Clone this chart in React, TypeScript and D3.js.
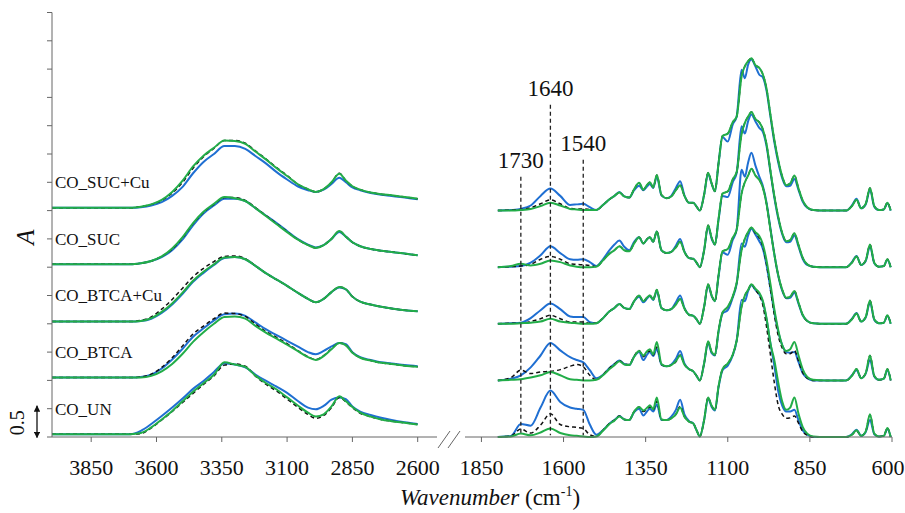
import React from 'react'
import * as d3 from 'd3'

// ---- data ----
const samples = ['CO_UN', 'CO_BTCA', 'CO_BTCA+Cu', 'CO_SUC', 'CO_SUC+Cu']
const offsets = [0, 1, 2, 3, 4]
const labelLevels = [0.5, 1.5, 2.5, 3.5, 4.5]

const leftTicks = [3850, 3600, 3350, 3100, 2850, 2600]
const rightTicks = [1850, 1600, 1350, 1100, 850, 600]
const markerWn = [1730, 1640, 1540]

const leftWn = [4000, 3700, 3660, 3620, 3580, 3540, 3500, 3460, 3420, 3380, 3340, 3300, 3260, 3220, 3180, 3140, 3100, 3060, 3020, 2990, 2960, 2930, 2900, 2875, 2850, 2820, 2780, 2740, 2700, 2650, 2600]

const amWn = [1800, 1760, 1730, 1700, 1670, 1640, 1610, 1580, 1560, 1540, 1520, 1500]
const fpWn = [1480, 1460, 1445, 1430, 1415, 1400, 1385, 1370, 1357, 1345, 1337, 1327, 1316, 1302, 1286, 1272, 1258, 1245, 1232, 1218, 1205, 1195, 1185, 1172, 1160, 1149, 1139, 1128, 1116, 1100, 1085, 1073, 1058, 1048, 1038, 1028, 1016, 1004, 994, 982, 970, 958, 946, 934, 922, 910, 897, 885, 872, 858, 840, 800, 740, 722, 708, 694, 680, 667, 654, 640, 625, 614, 604]

// CO_UN
const unLBlue = [0.05, 0.05, 0.11, 0.23, 0.37, 0.52, 0.68, 0.85, 0.99, 1.15, 1.30, 1.28, 1.23, 1.10, 0.99, 0.89, 0.78, 0.64, 0.52, 0.49, 0.55, 0.66, 0.70, 0.67, 0.54, 0.45, 0.39, 0.34, 0.30, 0.26, 0.23]
const unLGreen = [0.05, 0.05, 0.06, 0.16, 0.30, 0.45, 0.61, 0.77, 0.93, 1.08, 1.27, 1.29, 1.25, 1.07, 0.93, 0.81, 0.67, 0.53, 0.40, 0.33, 0.38, 0.52, 0.70, 0.62, 0.52, 0.42, 0.36, 0.31, 0.28, 0.25, 0.22]
const unLBlack = [0.05, 0.05, 0.07, 0.17, 0.31, 0.46, 0.63, 0.80, 0.95, 1.10, 1.32, 1.28, 1.24, 1.08, 0.95, 0.84, 0.70, 0.56, 0.43, 0.36, 0.40, 0.54, 0.72, 0.63, 0.53, 0.43, 0.36, 0.31, 0.28, 0.25, 0.22]
const unAmBlue = [0, 0.02, 0.23, 0.20, 0.52, 0.82, 0.62, 0.52, 0.50, 0.48, 0.22, 0.04]
const unAmGreen = [0, 0.02, 0.14, 0.07, 0.21, 0.41, 0.22, 0.18, 0.17, 0.15, 0.04, 0.01]
const unAmBlack = [0, 0.01, 0.06, 0.03, 0.08, 0.15, 0.07, 0.03, 0.02, 0.01, 0, 0.01]
const unFpBlue = [0.12, 0.24, 0.30, 0.37, 0.31, 0.30, 0.44, 0.50, 0.38, 0.46, 0.50, 0.45, 0.58, 0.30, 0.30, 0.36, 0.48, 0.66, 0.40, 0.28, 0.24, 0.12, 0.01, 0.30, 0.68, 0.53, 0.47, 0.88, 1.18, 1.26, 1.44, 1.70, 2.42, 2.40, 2.58, 2.68, 2.60, 2.52, 2.40, 2.08, 1.65, 1.25, 0.80, 0.55, 0.45, 0.45, 0.48, 0.30, 0.12, 0.04, 0.00, 0.00, 0.00, 0.05, 0.13, 0.02, 0.09, 0.30, 0.05, 0.01, 0.02, 0.14, 0.00]
const unFpGreen = [0.12, 0.24, 0.30, 0.37, 0.31, 0.30, 0.45, 0.53, 0.45, 0.50, 0.53, 0.48, 0.63, 0.31, 0.30, 0.33, 0.40, 0.54, 0.36, 0.27, 0.24, 0.12, 0.01, 0.30, 0.70, 0.55, 0.48, 0.90, 1.20, 1.30, 1.45, 1.70, 2.30, 2.50, 2.60, 2.70, 2.60, 2.50, 2.35, 1.95, 1.45, 0.95, 0.55, 0.40, 0.33, 0.34, 0.37, 0.25, 0.10, 0.03, 0.00, 0.00, 0.00, 0.04, 0.11, 0.02, 0.10, 0.39, 0.06, 0.01, 0.02, 0.16, 0.00]
const unFpBlack = [0.11, 0.23, 0.29, 0.36, 0.31, 0.30, 0.45, 0.53, 0.47, 0.52, 0.56, 0.49, 0.70, 0.31, 0.30, 0.33, 0.40, 0.52, 0.36, 0.27, 0.24, 0.12, 0.01, 0.30, 0.70, 0.55, 0.48, 0.90, 1.20, 1.30, 1.45, 1.70, 2.30, 2.50, 2.60, 2.70, 2.62, 2.55, 2.42, 2.10, 1.65, 1.35, 0.95, 0.62, 0.48, 0.52, 0.70, 0.42, 0.18, 0.06, 0.01, 0.00, 0.00, 0.04, 0.12, 0.02, 0.10, 0.40, 0.06, 0.01, 0.02, 0.16, 0.00]

// CO_BTCA
const btLBlue = [0.05, 0.05, 0.06, 0.10, 0.21, 0.37, 0.56, 0.77, 0.92, 1.06, 1.17, 1.18, 1.14, 1.02, 0.90, 0.80, 0.70, 0.60, 0.50, 0.46, 0.52, 0.60, 0.66, 0.64, 0.50, 0.41, 0.36, 0.32, 0.30, 0.27, 0.25]
const btLGreen = [0.05, 0.05, 0.06, 0.11, 0.23, 0.40, 0.61, 0.82, 0.96, 1.09, 1.19, 1.18, 1.13, 0.99, 0.86, 0.76, 0.65, 0.53, 0.42, 0.37, 0.44, 0.56, 0.66, 0.62, 0.49, 0.40, 0.35, 0.31, 0.29, 0.26, 0.24]
const btLBlack = [0.05, 0.05, 0.05, 0.08, 0.16, 0.29, 0.47, 0.68, 0.85, 1.00, 1.12, 1.13, 1.09, 0.96, 0.84, 0.74, 0.63, 0.52, 0.41, 0.36, 0.43, 0.55, 0.66, 0.62, 0.49, 0.40, 0.35, 0.31, 0.29, 0.26, 0.24]
const btAmBlue = [0, 0.03, 0.09, 0.23, 0.44, 0.66, 0.53, 0.41, 0.36, 0.32, 0.18, 0.04]
const btAmGreen = [0, 0.05, 0.18, 0.12, 0.15, 0.16, 0.19, 0.25, 0.28, 0.24, 0.09, 0.01]
const btAmBlack = [0, 0.01, 0.02, 0.05, 0.09, 0.15, 0.09, 0.02, 0.01, 0, 0, 0.01]
const btFpBlue = [0.10, 0.22, 0.29, 0.35, 0.29, 0.27, 0.42, 0.50, 0.36, 0.46, 0.50, 0.43, 0.56, 0.28, 0.25, 0.28, 0.38, 0.52, 0.30, 0.20, 0.16, 0.08, 0.00, 0.30, 0.66, 0.48, 0.44, 0.86, 1.18, 1.24, 1.46, 1.70, 2.42, 2.36, 2.56, 2.68, 2.58, 2.46, 2.34, 2.04, 1.62, 1.20, 0.85, 0.62, 0.50, 0.49, 0.50, 0.33, 0.13, 0.04, 0.00, 0.00, 0.00, 0.09, 0.18, 0.04, 0.12, 0.36, 0.07, 0.01, 0.03, 0.18, 0.00]
const btFpGreen = [0.10, 0.22, 0.29, 0.35, 0.29, 0.28, 0.43, 0.53, 0.42, 0.50, 0.52, 0.45, 0.59, 0.28, 0.25, 0.27, 0.33, 0.45, 0.28, 0.20, 0.16, 0.08, 0.00, 0.30, 0.69, 0.50, 0.45, 0.88, 1.20, 1.30, 1.48, 1.72, 2.30, 2.50, 2.62, 2.70, 2.60, 2.52, 2.38, 2.05, 1.60, 1.15, 0.78, 0.57, 0.47, 0.47, 0.53, 0.35, 0.14, 0.04, 0.00, 0.00, 0.00, 0.08, 0.20, 0.04, 0.13, 0.44, 0.08, 0.01, 0.03, 0.20, 0.00]
const btFpBlack = [0.09, 0.20, 0.27, 0.34, 0.28, 0.27, 0.42, 0.52, 0.44, 0.52, 0.55, 0.46, 0.68, 0.29, 0.25, 0.27, 0.34, 0.44, 0.28, 0.20, 0.16, 0.08, 0.00, 0.30, 0.69, 0.50, 0.45, 0.88, 1.20, 1.30, 1.48, 1.72, 2.30, 2.50, 2.62, 2.70, 2.62, 2.55, 2.42, 2.12, 1.70, 1.25, 0.88, 0.62, 0.52, 0.55, 0.68, 0.45, 0.20, 0.06, 0.01, 0.00, 0.00, 0.08, 0.20, 0.04, 0.13, 0.44, 0.08, 0.01, 0.03, 0.20, 0.00]

// CO_BTCA+Cu
const btCuLBlue = [0.04, 0.04, 0.05, 0.09, 0.19, 0.34, 0.53, 0.74, 0.90, 1.04, 1.16, 1.18, 1.14, 1.02, 0.89, 0.78, 0.67, 0.55, 0.44, 0.38, 0.44, 0.56, 0.64, 0.61, 0.48, 0.39, 0.34, 0.30, 0.27, 0.24, 0.22]
const btCuLGreen = [0.04, 0.04, 0.06, 0.12, 0.26, 0.43, 0.63, 0.83, 0.98, 1.10, 1.19, 1.20, 1.15, 1.02, 0.89, 0.78, 0.67, 0.55, 0.44, 0.38, 0.44, 0.56, 0.65, 0.61, 0.48, 0.39, 0.34, 0.30, 0.27, 0.24, 0.22]
const btCuLBlack = [0.04, 0.04, 0.05, 0.10, 0.21, 0.36, 0.55, 0.76, 0.92, 1.05, 1.17, 1.18, 1.14, 1.02, 0.89, 0.78, 0.67, 0.55, 0.44, 0.38, 0.44, 0.56, 0.65, 0.61, 0.48, 0.39, 0.34, 0.30, 0.27, 0.24, 0.22]
const btCuAmBlue = [0, 0.01, 0.02, 0.10, 0.24, 0.36, 0.26, 0.13, 0.12, 0.12, 0.03, 0.01]
const btCuAmGreen = [0, 0.01, 0.01, 0.04, 0.09, 0.15, 0.09, 0.03, 0.03, 0.03, 0.01, 0.01]
const btCuAmBlack = [0, 0, 0.01, 0.02, 0.04, 0.09, 0.04, 0.02, 0.01, 0, 0, 0.01]
const btCuFpBlue = [0.10, 0.22, 0.28, 0.35, 0.28, 0.26, 0.40, 0.48, 0.38, 0.45, 0.49, 0.42, 0.58, 0.28, 0.24, 0.26, 0.38, 0.50, 0.28, 0.16, 0.14, 0.08, 0.00, 0.30, 0.68, 0.49, 0.40, 0.84, 1.26, 1.22, 1.48, 1.66, 2.72, 2.60, 2.85, 3.02, 2.80, 2.60, 2.45, 2.14, 1.68, 1.22, 0.84, 0.58, 0.45, 0.46, 0.55, 0.36, 0.15, 0.05, 0.01, 0.00, 0.00, 0.09, 0.19, 0.04, 0.11, 0.38, 0.07, 0.01, 0.02, 0.14, 0.00]
const btCuFpGreen = [0.10, 0.22, 0.28, 0.35, 0.28, 0.26, 0.40, 0.50, 0.40, 0.47, 0.50, 0.43, 0.60, 0.28, 0.24, 0.26, 0.34, 0.44, 0.27, 0.16, 0.14, 0.08, 0.00, 0.30, 0.70, 0.50, 0.40, 0.86, 1.28, 1.32, 1.52, 1.66, 2.30, 2.50, 2.62, 2.74, 2.62, 2.54, 2.42, 2.12, 1.66, 1.22, 0.85, 0.60, 0.46, 0.48, 0.58, 0.38, 0.16, 0.05, 0.01, 0.00, 0.00, 0.08, 0.18, 0.04, 0.12, 0.41, 0.08, 0.01, 0.02, 0.15, 0.00]

// CO_SUC
const sucLBlue = [0.05, 0.05, 0.07, 0.11, 0.18, 0.30, 0.49, 0.74, 0.95, 1.09, 1.21, 1.21, 1.17, 1.04, 0.91, 0.78, 0.64, 0.50, 0.40, 0.35, 0.39, 0.50, 0.62, 0.54, 0.44, 0.37, 0.32, 0.29, 0.27, 0.24, 0.21]
const sucLGreen = [0.05, 0.05, 0.07, 0.11, 0.19, 0.32, 0.52, 0.77, 0.97, 1.11, 1.23, 1.23, 1.18, 1.05, 0.91, 0.77, 0.63, 0.49, 0.39, 0.34, 0.39, 0.50, 0.64, 0.54, 0.44, 0.37, 0.32, 0.29, 0.27, 0.24, 0.21]
const sucLBlack = [0.05, 0.05, 0.07, 0.11, 0.19, 0.33, 0.53, 0.78, 0.98, 1.12, 1.24, 1.22, 1.17, 1.04, 0.90, 0.76, 0.62, 0.49, 0.39, 0.34, 0.39, 0.50, 0.64, 0.54, 0.44, 0.37, 0.32, 0.29, 0.27, 0.24, 0.21]
const sucAmBlue = [0, 0.01, 0.02, 0.08, 0.21, 0.37, 0.25, 0.14, 0.13, 0.14, 0.09, 0.02]
const sucAmGreen = [0, 0.01, 0.02, 0.05, 0.14, 0.19, 0.14, 0.06, 0.05, 0.04, 0.03, 0.01]
const sucAmBlack = [0, 0.02, 0.06, 0.03, 0.06, 0.12, 0.09, 0.03, 0.01, 0, 0, 0.01]
const sucFpBlue = [0.14, 0.30, 0.40, 0.47, 0.36, 0.30, 0.45, 0.53, 0.42, 0.50, 0.53, 0.45, 0.63, 0.30, 0.25, 0.27, 0.38, 0.50, 0.28, 0.16, 0.15, 0.08, 0.00, 0.30, 0.72, 0.50, 0.40, 0.84, 1.26, 1.24, 1.50, 1.66, 2.49, 2.36, 2.58, 2.70, 2.58, 2.46, 2.40, 2.14, 1.68, 1.22, 0.85, 0.58, 0.44, 0.45, 0.56, 0.37, 0.15, 0.04, 0.01, 0.00, 0.00, 0.09, 0.20, 0.04, 0.11, 0.37, 0.07, 0.01, 0.02, 0.13, 0.00]
const sucFpGreen = [0.12, 0.24, 0.30, 0.37, 0.30, 0.28, 0.42, 0.53, 0.42, 0.50, 0.53, 0.45, 0.63, 0.30, 0.25, 0.27, 0.35, 0.45, 0.27, 0.16, 0.15, 0.08, 0.00, 0.30, 0.74, 0.52, 0.40, 0.86, 1.30, 1.34, 1.55, 1.68, 2.35, 2.55, 2.66, 2.74, 2.62, 2.56, 2.45, 2.18, 1.70, 1.25, 0.88, 0.60, 0.46, 0.48, 0.60, 0.40, 0.17, 0.05, 0.01, 0.00, 0.00, 0.08, 0.19, 0.04, 0.12, 0.40, 0.08, 0.01, 0.02, 0.14, 0.00]

// CO_SUC+Cu
const sucCuLBlue = [0.05, 0.05, 0.06, 0.09, 0.15, 0.26, 0.42, 0.66, 0.86, 1.00, 1.14, 1.14, 1.09, 0.96, 0.83, 0.68, 0.55, 0.43, 0.36, 0.33, 0.37, 0.47, 0.58, 0.50, 0.41, 0.36, 0.31, 0.28, 0.26, 0.23, 0.20]
const sucCuLGreen = [0.05, 0.05, 0.07, 0.11, 0.18, 0.31, 0.50, 0.75, 0.95, 1.10, 1.24, 1.24, 1.19, 1.05, 0.91, 0.76, 0.62, 0.47, 0.38, 0.33, 0.38, 0.50, 0.66, 0.53, 0.43, 0.37, 0.32, 0.29, 0.27, 0.24, 0.21]
const sucCuLBlack = [0.05, 0.05, 0.07, 0.11, 0.19, 0.33, 0.53, 0.78, 0.97, 1.11, 1.24, 1.23, 1.18, 1.04, 0.90, 0.75, 0.61, 0.47, 0.38, 0.33, 0.38, 0.50, 0.65, 0.53, 0.43, 0.37, 0.32, 0.29, 0.27, 0.24, 0.21]
const sucCuAmBlue = [0, 0.01, 0.03, 0.09, 0.26, 0.39, 0.26, 0.10, 0.11, 0.12, 0.06, 0.01]
const sucCuAmGreen = [0, 0.01, 0.02, 0.05, 0.12, 0.19, 0.12, 0.04, 0.03, 0.03, 0.02, 0.01]
const sucCuAmBlack = [0, 0, 0.01, 0.03, 0.08, 0.14, 0.09, 0.03, 0.02, 0.01, 0.01, 0.01]
const sucCuFpBlue = [0.10, 0.20, 0.26, 0.33, 0.25, 0.23, 0.36, 0.44, 0.36, 0.43, 0.47, 0.40, 0.60, 0.27, 0.22, 0.26, 0.40, 0.52, 0.27, 0.14, 0.14, 0.07, 0.00, 0.28, 0.65, 0.47, 0.34, 0.84, 1.30, 1.22, 1.52, 1.66, 2.49, 2.34, 2.58, 2.67, 2.55, 2.40, 2.36, 2.12, 1.66, 1.20, 0.84, 0.57, 0.43, 0.44, 0.56, 0.37, 0.16, 0.05, 0.01, 0.00, 0.00, 0.09, 0.21, 0.04, 0.11, 0.37, 0.07, 0.01, 0.02, 0.13, 0.00]
const sucCuFpGreen = [0.10, 0.20, 0.26, 0.32, 0.25, 0.23, 0.38, 0.49, 0.37, 0.46, 0.50, 0.41, 0.63, 0.28, 0.22, 0.25, 0.36, 0.45, 0.26, 0.14, 0.14, 0.07, 0.00, 0.28, 0.67, 0.48, 0.34, 0.84, 1.32, 1.36, 1.56, 1.66, 2.37, 2.55, 2.64, 2.69, 2.57, 2.52, 2.42, 2.16, 1.69, 1.24, 0.88, 0.60, 0.45, 0.48, 0.62, 0.40, 0.18, 0.06, 0.01, 0.00, 0.00, 0.08, 0.19, 0.04, 0.12, 0.40, 0.08, 0.01, 0.02, 0.14, 0.00]

// ---- layout ----
const W = 905
const H = 513
const BLUE = '#1f6fd2'
const GREEN = '#22ad48'
const FONT = '"Liberation Serif"'

const xL = d3.scaleLinear().domain([4000, 2600]).range([52, 417.7])
const xR = d3.scaleLinear().domain([1900, 600]).range([465, 892])
const y = d3.scaleLinear().domain([0, 7.5]).range([437, 12.5])

const rightWn = amWn.concat(fpWn)

const table = [
  { left: [unLBlue, unLGreen, unLBlack], right: [unAmBlue.concat(unFpBlue), unAmGreen.concat(unFpGreen), unAmBlack.concat(unFpBlack)] },
  { left: [btLBlue, btLGreen, btLBlack], right: [btAmBlue.concat(btFpBlue), btAmGreen.concat(btFpGreen), btAmBlack.concat(btFpBlack)] },
  { left: [btCuLBlue, btCuLGreen, btCuLBlack], right: [btCuAmBlue.concat(btCuFpBlue), btCuAmGreen.concat(btCuFpGreen), btCuAmBlack.concat(btCuFpGreen)] },
  { left: [sucLBlue, sucLGreen, sucLBlack], right: [sucAmBlue.concat(sucFpBlue), sucAmGreen.concat(sucFpGreen), sucAmBlack.concat(sucFpGreen)] },
  { left: [sucCuLBlue, sucCuLGreen, sucCuLBlack], right: [sucCuAmBlue.concat(sucCuFpBlue), sucCuAmGreen.concat(sucCuFpGreen), sucCuAmBlack.concat(sucCuFpGreen)] },
]

const makePath = (wn: number[], x: d3.ScaleLinear<number, number>, vals: number[], off: number) =>
  d3.line<number>()
    .x((_, i) => x(wn[i]))
    .y((v) => y(v + off))
    .curve(d3.curveMonotoneX)(vals) || ''

// blue first, then dashed black, green on top
const styles = [
  { stroke: BLUE, width: 2, dash: undefined },
  { stroke: '#111', width: 1.5, dash: '4 3' },
  { stroke: GREEN, width: 2, dash: undefined },
]

const Txt = (props: any) => {
  const { children, style, ...rest } = props
  return <text fill="#111" {...rest} style={{ fontFamily: FONT, ...(style || {}) }}>{children}</text>
}

export default function App() {
  const yTicks = y.ticks(15)
  const axisY = y(0)
  const markerTop = [4.6, 5.87, 4.9]
  const markerLabel = [4.75, 6.03, 5.06]

  return (
    <svg width={W} height={H} style={{ position: 'absolute', left: 0, top: 0, background: '#fff' }}>
      {table.map((s, si) => (
        <g key={samples[si]}>
          {styles.map((st, k) => (
            <path key={'l' + k} d={makePath(leftWn, xL, s.left[k], offsets[si])} fill="none"
              stroke={st.stroke} strokeWidth={st.width} strokeDasharray={st.dash} strokeLinejoin="round" />
          ))}
          {styles.map((st, k) => (
            <path key={'r' + k} d={makePath(rightWn, xR, s.right[k], offsets[si])} fill="none"
              stroke={st.stroke} strokeWidth={st.width} strokeDasharray={st.dash} strokeLinejoin="round" />
          ))}
        </g>
      ))}

      {markerWn.map((w, i) => (
        <g key={w}>
          <line x1={xR(w)} x2={xR(w)} y1={y(markerTop[i])} y2={y(0.03)} stroke="#222" strokeWidth={1.3} strokeDasharray="4 3" />
          <Txt x={xR(w)} y={y(markerLabel[i])} textAnchor="middle" fontSize={23}>{w}</Txt>
        </g>
      ))}

      <line x1={52} x2={52} y1={y(7.5)} y2={axisY} stroke="#666" strokeWidth={1} />
      {yTicks.map((t) => (
        <line key={t} x1={47} x2={52} y1={y(t)} y2={y(t)} stroke="#666" strokeWidth={1} />
      ))}
      {samples.map((n, i) => (
        <Txt key={n} x={55} y={y(labelLevels[i])} dy="0.35em" fontSize={17}>{n}</Txt>
      ))}
      <Txt transform="translate(34,237) rotate(-90)" textAnchor="middle" fontSize={25} fontStyle="italic">A</Txt>
      <Txt transform={`translate(24,${(y(0) + y(0.5)) / 2}) rotate(-90)`} textAnchor="middle" fontSize={20}>0.5</Txt>
      <defs>
        <marker id="ah" viewBox="0 0 10 10" refX="9" refY="5" markerWidth="5" markerHeight="5" orient="auto-start-reverse">
          <path d="M0,0 L10,5 L0,10 z" fill="#111" />
        </marker>
      </defs>
      <line x1={37} x2={37} y1={y(0.55)} y2={y(-0.01)} stroke="#111" strokeWidth={1.3} markerStart="url(#ah)" markerEnd="url(#ah)" />

      <line x1={52} x2={437} y1={axisY} y2={axisY} stroke="#666" strokeWidth={1} />
      <line x1={465} x2={892} y1={axisY} y2={axisY} stroke="#666" strokeWidth={1} />
      <line x1={438} x2={450} y1={axisY + 11} y2={axisY - 6} stroke="#666" strokeWidth={1} />
      <line x1={448} x2={460} y1={axisY + 11} y2={axisY - 6} stroke="#666" strokeWidth={1} />
      {leftTicks.map((t) => (
        <g key={t}>
          <line x1={xL(t)} x2={xL(t)} y1={axisY} y2={axisY + 5} stroke="#666" />
          <Txt x={xL(t)} y={475} textAnchor="middle" fontSize={22}>{t}</Txt>
        </g>
      ))}
      {rightTicks.map((t) => (
        <g key={t}>
          <line x1={xR(t)} x2={xR(t)} y1={axisY} y2={axisY + 5} stroke="#666" />
          <Txt x={Math.min(xR(t), W - 17)} y={475} textAnchor="middle" fontSize={22}>{t}</Txt>
        </g>
      ))}
      <Txt x={400} y={505} fontSize={23}>
        <tspan fontStyle="italic">Wavenumber</tspan>
        <tspan> (cm</tspan>
        <tspan fontSize={14} dy={-9}>-1</tspan>
        <tspan dy={9}>)</tspan>
      </Txt>
    </svg>
  )
}
